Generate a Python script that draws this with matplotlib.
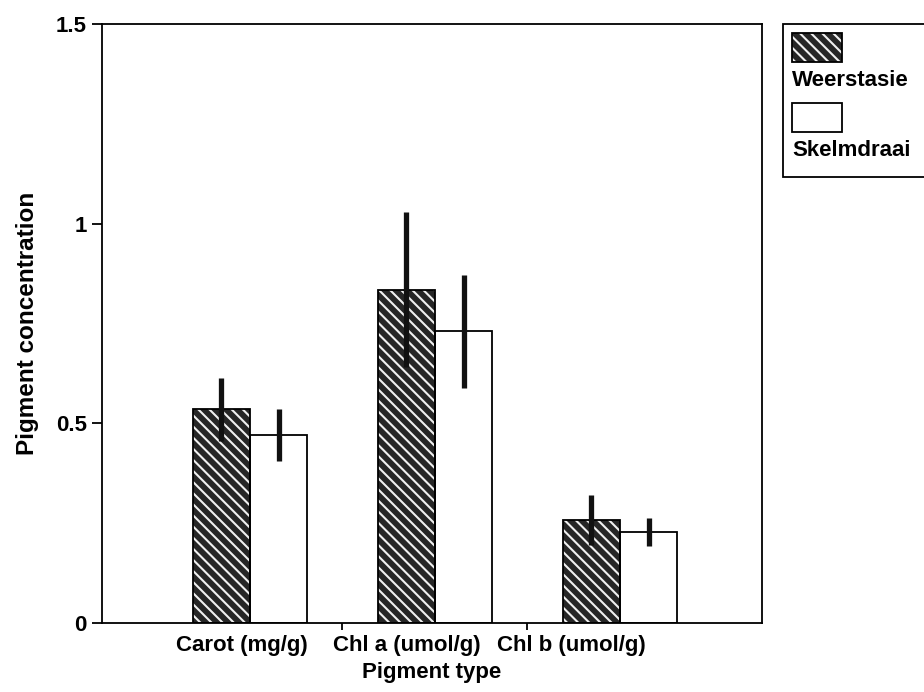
import matplotlib
matplotlib.use("Agg")
import matplotlib.pyplot as plt
import matplotlib.transforms as mtransforms
from matplotlib.patches import Rectangle
import numpy as np

plt.rcParams['font.family'] = ['Liberation Sans', 'DejaVu Sans']
plt.rcParams['font.weight'] = 'bold'
plt.rcParams['hatch.linewidth'] = 1.5

categories = ["Carot (mg/g)", "Chl a (umol/g)", "Chl b (umol/g)"]
series_names = ["Weerstasie", "Skelmdraai"]
weerstasie = [0.535, 0.835, 0.258]
weerstasie_err = [0.078, 0.195, 0.062]
skelmdraai = [0.470, 0.730, 0.228]
skelmdraai_err = [0.065, 0.142, 0.035]
yticks = [0, 0.5, 1, 1.5]
ytick_labels = ["0", "0.5", "1", "1.5"]

W, H = 924, 692
fig = plt.figure(figsize=(W / 100, H / 100), dpi=100)
ax = fig.add_axes([102 / W, 1 - 623 / H, (762 - 102) / W, (623 - 24) / H])

x = np.arange(len(categories))
bw = 0.31
dark = "#262626"
hatch = "\\\\\\"

# hatched dark bars (white hatch) + black outline
ax.bar(x - bw / 2, weerstasie, bw, color=dark, edgecolor="#f0f0f0", hatch=hatch, linewidth=0, zorder=2)
ax.bar(x - bw / 2, weerstasie, bw, facecolor="none", edgecolor="black", linewidth=1.3, zorder=3)
ax.bar(x + bw / 2, skelmdraai, bw, color="white", edgecolor="black", linewidth=1.3, zorder=2)

ax.errorbar(x - bw / 2, weerstasie, yerr=weerstasie_err, fmt="none", ecolor="#111111",
            elinewidth=3.8, capsize=0, zorder=4)
ax.errorbar(x + bw / 2, skelmdraai, yerr=skelmdraai_err, fmt="none", ecolor="#111111",
            elinewidth=3.8, capsize=0, zorder=4)

ax.set_xlim(-0.8, 2.768)
ax.set_ylim(0, 1.5)
ax.set_yticks(yticks)
ax.set_yticklabels(ytick_labels, fontsize=16, fontweight="bold")
ax.set_xticks(x)
ax.set_xticklabels(categories, fontsize=16, fontweight="bold")
ax.set_xticks([0.5, 1.5], minor=True)
ax.tick_params(axis="x", which="major", length=0, pad=9)
ax.tick_params(axis="x", which="minor", length=5, width=1.3, direction="out")
ax.tick_params(axis="y", length=7, width=1.3, direction="out", pad=4)

offsets = [-8, -28, -49]
for lab, dx in zip(ax.get_xticklabels(), offsets):
    lab.set_transform(lab.get_transform() + mtransforms.ScaledTranslation(dx / 100, 0, fig.dpi_scale_trans))

for s in ax.spines.values():
    s.set_linewidth(1.3)

ax.set_xlabel("Pigment type", fontsize=16, fontweight="bold", labelpad=4)
ax.set_ylabel("Pigment concentration", fontsize=17.5, fontweight="bold", labelpad=12)

# legend box drawn manually (patch above label)
def fx(px):
    return px / W

def fy(py):
    return 1 - py / H

fig.patches.append(Rectangle((fx(783), fy(177)), fx(160), (177 - 24) / H, transform=fig.transFigure,
                             facecolor="white", edgecolor="black", linewidth=1.3))
fig.patches.append(Rectangle((fx(792), fy(62)), fx(50), 29 / H, transform=fig.transFigure,
                             facecolor=dark, edgecolor="#f0f0f0", hatch=hatch, linewidth=0))
fig.patches.append(Rectangle((fx(792), fy(62)), fx(50), 29 / H, transform=fig.transFigure,
                             facecolor="none", edgecolor="black", linewidth=1.3))
fig.patches.append(Rectangle((fx(792), fy(132)), fx(50), 29 / H, transform=fig.transFigure,
                             facecolor="white", edgecolor="black", linewidth=1.3))
fig.text(fx(792), fy(81), series_names[0], fontsize=16, fontweight="bold", va="center", ha="left")
fig.text(fx(792), fy(150), series_names[1], fontsize=16, fontweight="bold", va="center", ha="left")

fig.savefig("out.png", dpi=100)
